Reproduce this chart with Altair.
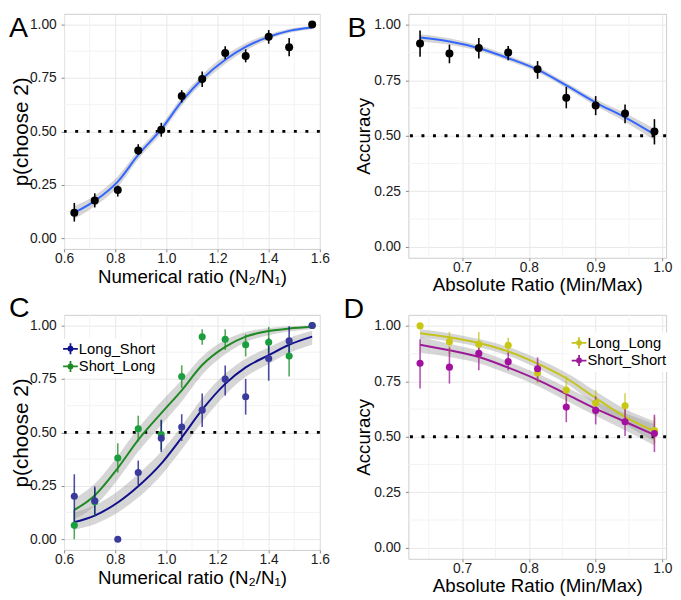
import altair as alt
import pandas as pd

FONT = "Liberation Sans"

# ---------------- data ----------------
ratio = [0.64, 0.72, 0.81, 0.89, 0.98, 1.06, 1.14, 1.23, 1.31, 1.40, 1.48, 1.57]
abs_ratio = [0.637, 0.681, 0.725, 0.769, 0.813, 0.856, 0.900, 0.944, 0.988]

# Panel A
a_mean = [0.119, 0.177, 0.226, 0.411, 0.508, 0.666, 0.745, 0.867, 0.853, 0.943, 0.893, 1.0]
a_lo = [0.078, 0.144, 0.195, 0.390, 0.475, 0.635, 0.708, 0.837, 0.823, 0.910, 0.852, 1.0]
a_hi = [0.165, 0.210, 0.246, 0.440, 0.540, 0.693, 0.780, 0.898, 0.884, 0.974, 0.937, 1.0]
a_fit = [0.120, 0.175, 0.265, 0.390, 0.510, 0.640, 0.745, 0.835, 0.895, 0.942, 0.970, 0.986]
a_fit_lo = [0.090, 0.150, 0.240, 0.370, 0.490, 0.620, 0.725, 0.815, 0.878, 0.930, 0.960, 0.978]
a_fit_hi = [0.150, 0.200, 0.290, 0.410, 0.530, 0.660, 0.765, 0.855, 0.912, 0.954, 0.980, 0.993]

# Panel B
b_mean = [0.916, 0.871, 0.896, 0.876, 0.800, 0.671, 0.637, 0.601, 0.519]
b_lo = [0.856, 0.827, 0.849, 0.841, 0.757, 0.624, 0.593, 0.557, 0.461]
b_hi = [0.975, 0.911, 0.941, 0.905, 0.837, 0.721, 0.679, 0.641, 0.575]
b_fit = [0.943, 0.925, 0.895, 0.850, 0.798, 0.727, 0.650, 0.583, 0.506]
b_fit_lo = [0.925, 0.910, 0.882, 0.838, 0.786, 0.714, 0.635, 0.563, 0.480]
b_fit_hi = [0.958, 0.940, 0.908, 0.862, 0.810, 0.740, 0.665, 0.603, 0.532]

# Panel C
c_groups = ["Long_Short", "Short_Long"]
c_ls_mean = [0.201, 0.180, 0.000, 0.312, 0.472, 0.525, 0.604, 0.749, 0.667, 0.846, 0.928, 1.0]
c_ls_lo = [0.076, 0.114, 0.000, 0.254, 0.408, 0.460, 0.525, 0.673, 0.583, 0.742, 0.863, 1.0]
c_ls_hi = [0.304, 0.247, 0.000, 0.368, 0.557, 0.585, 0.682, 0.813, 0.750, 0.940, 0.997, 1.0]
c_sl_mean = [0.065, 0.175, 0.380, 0.517, 0.490, 0.761, 0.947, 0.936, 0.910, 0.922, 0.857, 1.0]
c_sl_lo = [0.000, 0.110, 0.312, 0.457, 0.419, 0.708, 0.910, 0.886, 0.855, 0.872, 0.761, 1.0]
c_sl_hi = [0.137, 0.240, 0.449, 0.578, 0.560, 0.814, 0.982, 0.982, 0.959, 0.994, 0.921, 1.0]
c_ls_fit = [0.080, 0.111, 0.172, 0.248, 0.354, 0.476, 0.606, 0.727, 0.804, 0.861, 0.910, 0.948]
c_ls_fit_lo = [0.045, 0.070, 0.125, 0.195, 0.300, 0.420, 0.550, 0.675, 0.760, 0.820, 0.872, 0.910]
c_ls_fit_hi = [0.125, 0.160, 0.225, 0.305, 0.410, 0.530, 0.660, 0.775, 0.845, 0.897, 0.942, 0.975]
c_sl_fit = [0.137, 0.205, 0.333, 0.465, 0.590, 0.697, 0.815, 0.900, 0.948, 0.974, 0.986, 0.994]
c_sl_fit_lo = [0.095, 0.155, 0.280, 0.410, 0.535, 0.645, 0.770, 0.865, 0.922, 0.955, 0.972, 0.984]
c_sl_fit_hi = [0.190, 0.260, 0.390, 0.520, 0.645, 0.745, 0.855, 0.932, 0.970, 0.988, 0.996, 1.000]

# Panel D
d_groups = ["Long_Long", "Short_Short"]
d_ll_mean = [1.000, 0.929, 0.917, 0.913, 0.788, 0.711, 0.652, 0.640, 0.528]
d_ll_lo = [1.000, 0.873, 0.851, 0.873, 0.740, 0.659, 0.600, 0.586, 0.470]
d_ll_hi = [1.000, 0.973, 0.973, 0.947, 0.829, 0.773, 0.711, 0.696, 0.590]
d_ss_mean = [0.832, 0.814, 0.876, 0.839, 0.807, 0.634, 0.619, 0.568, 0.515]
d_ss_lo = [0.718, 0.740, 0.800, 0.800, 0.748, 0.566, 0.556, 0.504, 0.431]
d_ss_hi = [0.940, 0.903, 0.932, 0.880, 0.858, 0.696, 0.681, 0.630, 0.600]
d_ll_fit = [0.967, 0.949, 0.923, 0.885, 0.830, 0.764, 0.675, 0.590, 0.525]
d_ll_fit_lo = [0.947, 0.931, 0.905, 0.865, 0.808, 0.739, 0.645, 0.555, 0.480]
d_ll_fit_hi = [0.985, 0.967, 0.941, 0.905, 0.852, 0.789, 0.705, 0.625, 0.570]
d_ss_fit = [0.915, 0.890, 0.860, 0.812, 0.757, 0.693, 0.627, 0.568, 0.509]
d_ss_fit_lo = [0.880, 0.860, 0.832, 0.784, 0.729, 0.663, 0.595, 0.530, 0.461]
d_ss_fit_hi = [0.950, 0.920, 0.888, 0.840, 0.785, 0.723, 0.659, 0.606, 0.557]

# axis ticks / reference values
num_ticks = [0.6, 0.8, 1.0, 1.2, 1.4, 1.6]
num_minor = [0.7, 0.9, 1.1, 1.3, 1.5]
abs_ticks = [0.7, 0.8, 0.9, 1.0]
abs_minor = [0.65, 0.75, 0.85, 0.95]
y_ticks = [0.0, 0.25, 0.5, 0.75, 1.0]
y_minor = [0.125, 0.375, 0.625, 0.875]
chance = [0.5]

# ---------------- style ----------------
MAJOR = "#e8e8e8"
MINOR = "#f3f3f3"
BAND = "#999999"
SYMBOL = ("M-1,0L1,0M0,-0.75L0,0.75"
          "M0.12,0A0.12,0.12,0,1,1,-0.12,0A0.12,0.12,0,1,1,0.12,0"
          "M0.28,0A0.28,0.28,0,1,1,-0.28,0A0.28,0.28,0,1,1,0.28,0")


def make_axis(values, fmt, title_pad):
    return alt.Axis(values=values, format=fmt, grid=True, gridColor=MAJOR, gridWidth=1,
                    domain=False, ticks=True, tickSize=3, tickColor="#888888",
                    labelFontSize=14, labelColor="#1a1a1a", labelFlush=False,
                    labelOverlap=False, labelBound=False,
                    titleFontSize=19, titleFontWeight="normal", titleColor="black",
                    titlePadding=title_pad, labelPadding=0)


def make_yaxis(title_size, title_pad):
    return alt.Axis(values=y_ticks, format=".2f", grid=True, gridColor=MAJOR, gridWidth=1,
                    domain=False, ticks=True, tickSize=3, tickColor="#888888",
                    labelFontSize=14, labelColor="#1a1a1a", labelPadding=5,
                    titleFontSize=title_size, titleFontWeight="normal", titleColor="black",
                    titlePadding=title_pad)


def panel(pts, fit, x_dom, x_ticks, x_minor, x_title, y_title, w, h, letter, lx, ly,
          xpad, ysize, ypad, colors=None, pcolors=None, groups=None, legend=None,
          single=None):
    xs = alt.Scale(domain=x_dom, nice=False, zero=False)
    ys = alt.Scale(domain=[-0.05, 1.05], nice=False, zero=False)
    xa = make_axis(x_ticks, ".1f", xpad)
    ya = make_yaxis(ysize, ypad)

    def X(f):
        return alt.X(f + ":Q", scale=xs, axis=xa, title=x_title)

    def Y(f):
        return alt.Y(f + ":Q", scale=ys, axis=ya, title=y_title)

    layers = []
    layers.append(alt.Chart(pd.DataFrame({"v": x_minor})).mark_rule(color=MINOR, strokeWidth=1)
                  .encode(x=X("v")))
    layers.append(alt.Chart(pd.DataFrame({"v": y_minor})).mark_rule(color=MINOR, strokeWidth=1)
                  .encode(y=Y("v")))
    layers.append(alt.Chart(fit).mark_area(color=BAND, opacity=0.4, interpolate="monotone")
                  .encode(x=X("x"), y=Y("flo"), y2="fhi:Q", detail="group:N"))
    layers.append(alt.Chart(pd.DataFrame({"c": chance})).mark_rule(
        color="black", strokeWidth=3, strokeDash=[3, 8.7]).encode(y=Y("c")))
    if groups is None:
        layers.append(alt.Chart(fit).mark_line(color=single, strokeWidth=2, interpolate="monotone")
                      .encode(x=X("x"), y=Y("fit")))
        layers.append(alt.Chart(pts).mark_rule(color="black", strokeWidth=1.6)
                      .encode(x=X("x"), y=Y("lo"), y2="hi:Q"))
        layers.append(alt.Chart(pts).mark_circle(size=66, color="black", opacity=1)
                      .encode(x=X("x"), y=Y("mean")))
    else:
        cs = alt.Scale(domain=groups, range=colors)
        ps = alt.Scale(domain=groups, range=pcolors)
        layers.append(alt.Chart(fit).mark_line(strokeWidth=2, interpolate="monotone")
                      .encode(x=X("x"), y=Y("fit"),
                              color=alt.Color("group:N", scale=cs, legend=legend),
                              detail="group:N"))
        layers.append(alt.Chart(pts).mark_rule(strokeWidth=1.6, opacity=0.75)
                      .encode(x=X("x"), y=Y("lo"), y2="hi:Q",
                              color=alt.Color("group:N", scale=cs, legend=None)))
        layers.append(alt.Chart(pts).mark_circle(size=52, opacity=1)
                      .encode(x=X("x"), y=Y("mean"),
                              fill=alt.Fill("group:N", scale=ps, legend=None),
                              order=alt.Order("ord:Q")))
    layers.append(alt.Chart(pd.DataFrame({"t": [letter]})).mark_text(
        align="left", baseline="alphabetic", fontSize=29, font=FONT, color="black")
        .encode(x=alt.value(lx), y=alt.value(ly), text="t:N"))
    return alt.layer(*layers).properties(width=w, height=h)


def long_pts(xv, groups, means, los, his):
    rows = []
    for k, g in enumerate(groups):
        for i, xx in enumerate(xv):
            rows.append({"x": xx, "group": g, "mean": means[k][i], "lo": los[k][i],
                         "hi": his[k][i], "ord": k})
    return pd.DataFrame(rows)


def long_fit(xv, groups, fits, flos, fhis):
    rows = []
    for k, g in enumerate(groups):
        for i, xx in enumerate(xv):
            rows.append({"x": xx, "group": g, "fit": fits[k][i], "flo": flos[k][i],
                         "fhi": fhis[k][i]})
    return pd.DataFrame(rows)


NUM_TITLE_A = "Numerical ratio  (N\u2082/N\u2081)"
NUM_TITLE_C = "Numerical ratio (N\u2082/N\u2081)"
ABS_TITLE = "Absolute Ratio (Min/Max)"

A = panel(long_pts(ratio, ["all"], [a_mean], [a_lo], [a_hi]),
          long_fit(ratio, ["all"], [a_fit], [a_fit_lo], [a_fit_hi]),
          [0.6, 1.6], num_ticks, num_minor, NUM_TITLE_A, "p(choose 2)", 260, 239,
          "A", -56, 24, 2, 21, -2, single="#3366FF")

B = panel(long_pts(abs_ratio, ["all"], [b_mean], [b_lo], [b_hi]),
          long_fit(abs_ratio, ["all"], [b_fit], [b_fit_lo], [b_fit_hi]),
          [0.6195, 1.0055], abs_ticks, abs_minor, ABS_TITLE, "Accuracy", 262, 248,
          "B", -62, 24, 1.5, 19, 0, single="#3366FF")

legend_c = alt.Legend(title=None, orient="none", legendX=-4, legendY=24,
                      symbolType=SYMBOL, symbolSize=225, symbolStrokeWidth=1.8,
                      labelFontSize=15, labelColor="black", labelFont=FONT, labelOffset=0,
                      padding=2, fillColor="white", rowPadding=-2, symbolOpacity=1)
C = panel(long_pts(ratio, ["Short_Long", "Long_Short"], [c_sl_mean, c_ls_mean],
                   [c_sl_lo, c_ls_lo], [c_sl_hi, c_ls_hi]),
          long_fit(ratio, c_groups, [c_ls_fit, c_sl_fit], [c_ls_fit_lo, c_sl_fit_lo],
                   [c_ls_fit_hi, c_sl_fit_hi]),
          [0.6, 1.6], num_ticks, num_minor, NUM_TITLE_C, "p(choose 2)", 260, 239,
          "C", -56, 2, 2.5, 21, -2, colors=["#10108a", "#1f8a24"],
          pcolors=["#3a3a9c", "#1a9e3e"], groups=c_groups, legend=legend_c)

legend_d = alt.Legend(title=None, orient="none", legendX=163, legendY=18,
                      symbolType=SYMBOL, symbolSize=225, symbolStrokeWidth=1.8,
                      labelFontSize=15, labelColor="black", labelFont=FONT, labelOffset=0,
                      padding=2, fillColor="white", rowPadding=-2, symbolOpacity=1)
D = panel(long_pts(abs_ratio, d_groups, [d_ll_mean, d_ss_mean], [d_ll_lo, d_ss_lo],
                   [d_ll_hi, d_ss_hi]),
          long_fit(abs_ratio, d_groups, [d_ll_fit, d_ss_fit], [d_ll_fit_lo, d_ss_fit_lo],
                   [d_ll_fit_hi, d_ss_fit_hi]),
          [0.6195, 1.0055], abs_ticks, abs_minor, ABS_TITLE, "Accuracy", 262, 248,
          "D", -66, 3, 1.5, 19, 0, colors=["#c4c41c", "#9c1a98"],
          pcolors=["#c8c814", "#a3109f"], groups=d_groups, legend=legend_d)

chart = (alt.concat(A, B, C, D, columns=2, spacing={"row": 58, "column": 90}, bounds="flush")
         .resolve_scale(x="independent", y="independent", color="independent",
                        fill="independent")
         .resolve_legend(color="independent", fill="independent")
         .resolve_axis(x="independent", y="independent")
         .properties(padding=0)
         .configure(font=FONT)
         .configure_view(stroke="#cccccc", strokeWidth=1))

chart.save("out.html", embed_options={"renderer": "svg", "actions": False})
